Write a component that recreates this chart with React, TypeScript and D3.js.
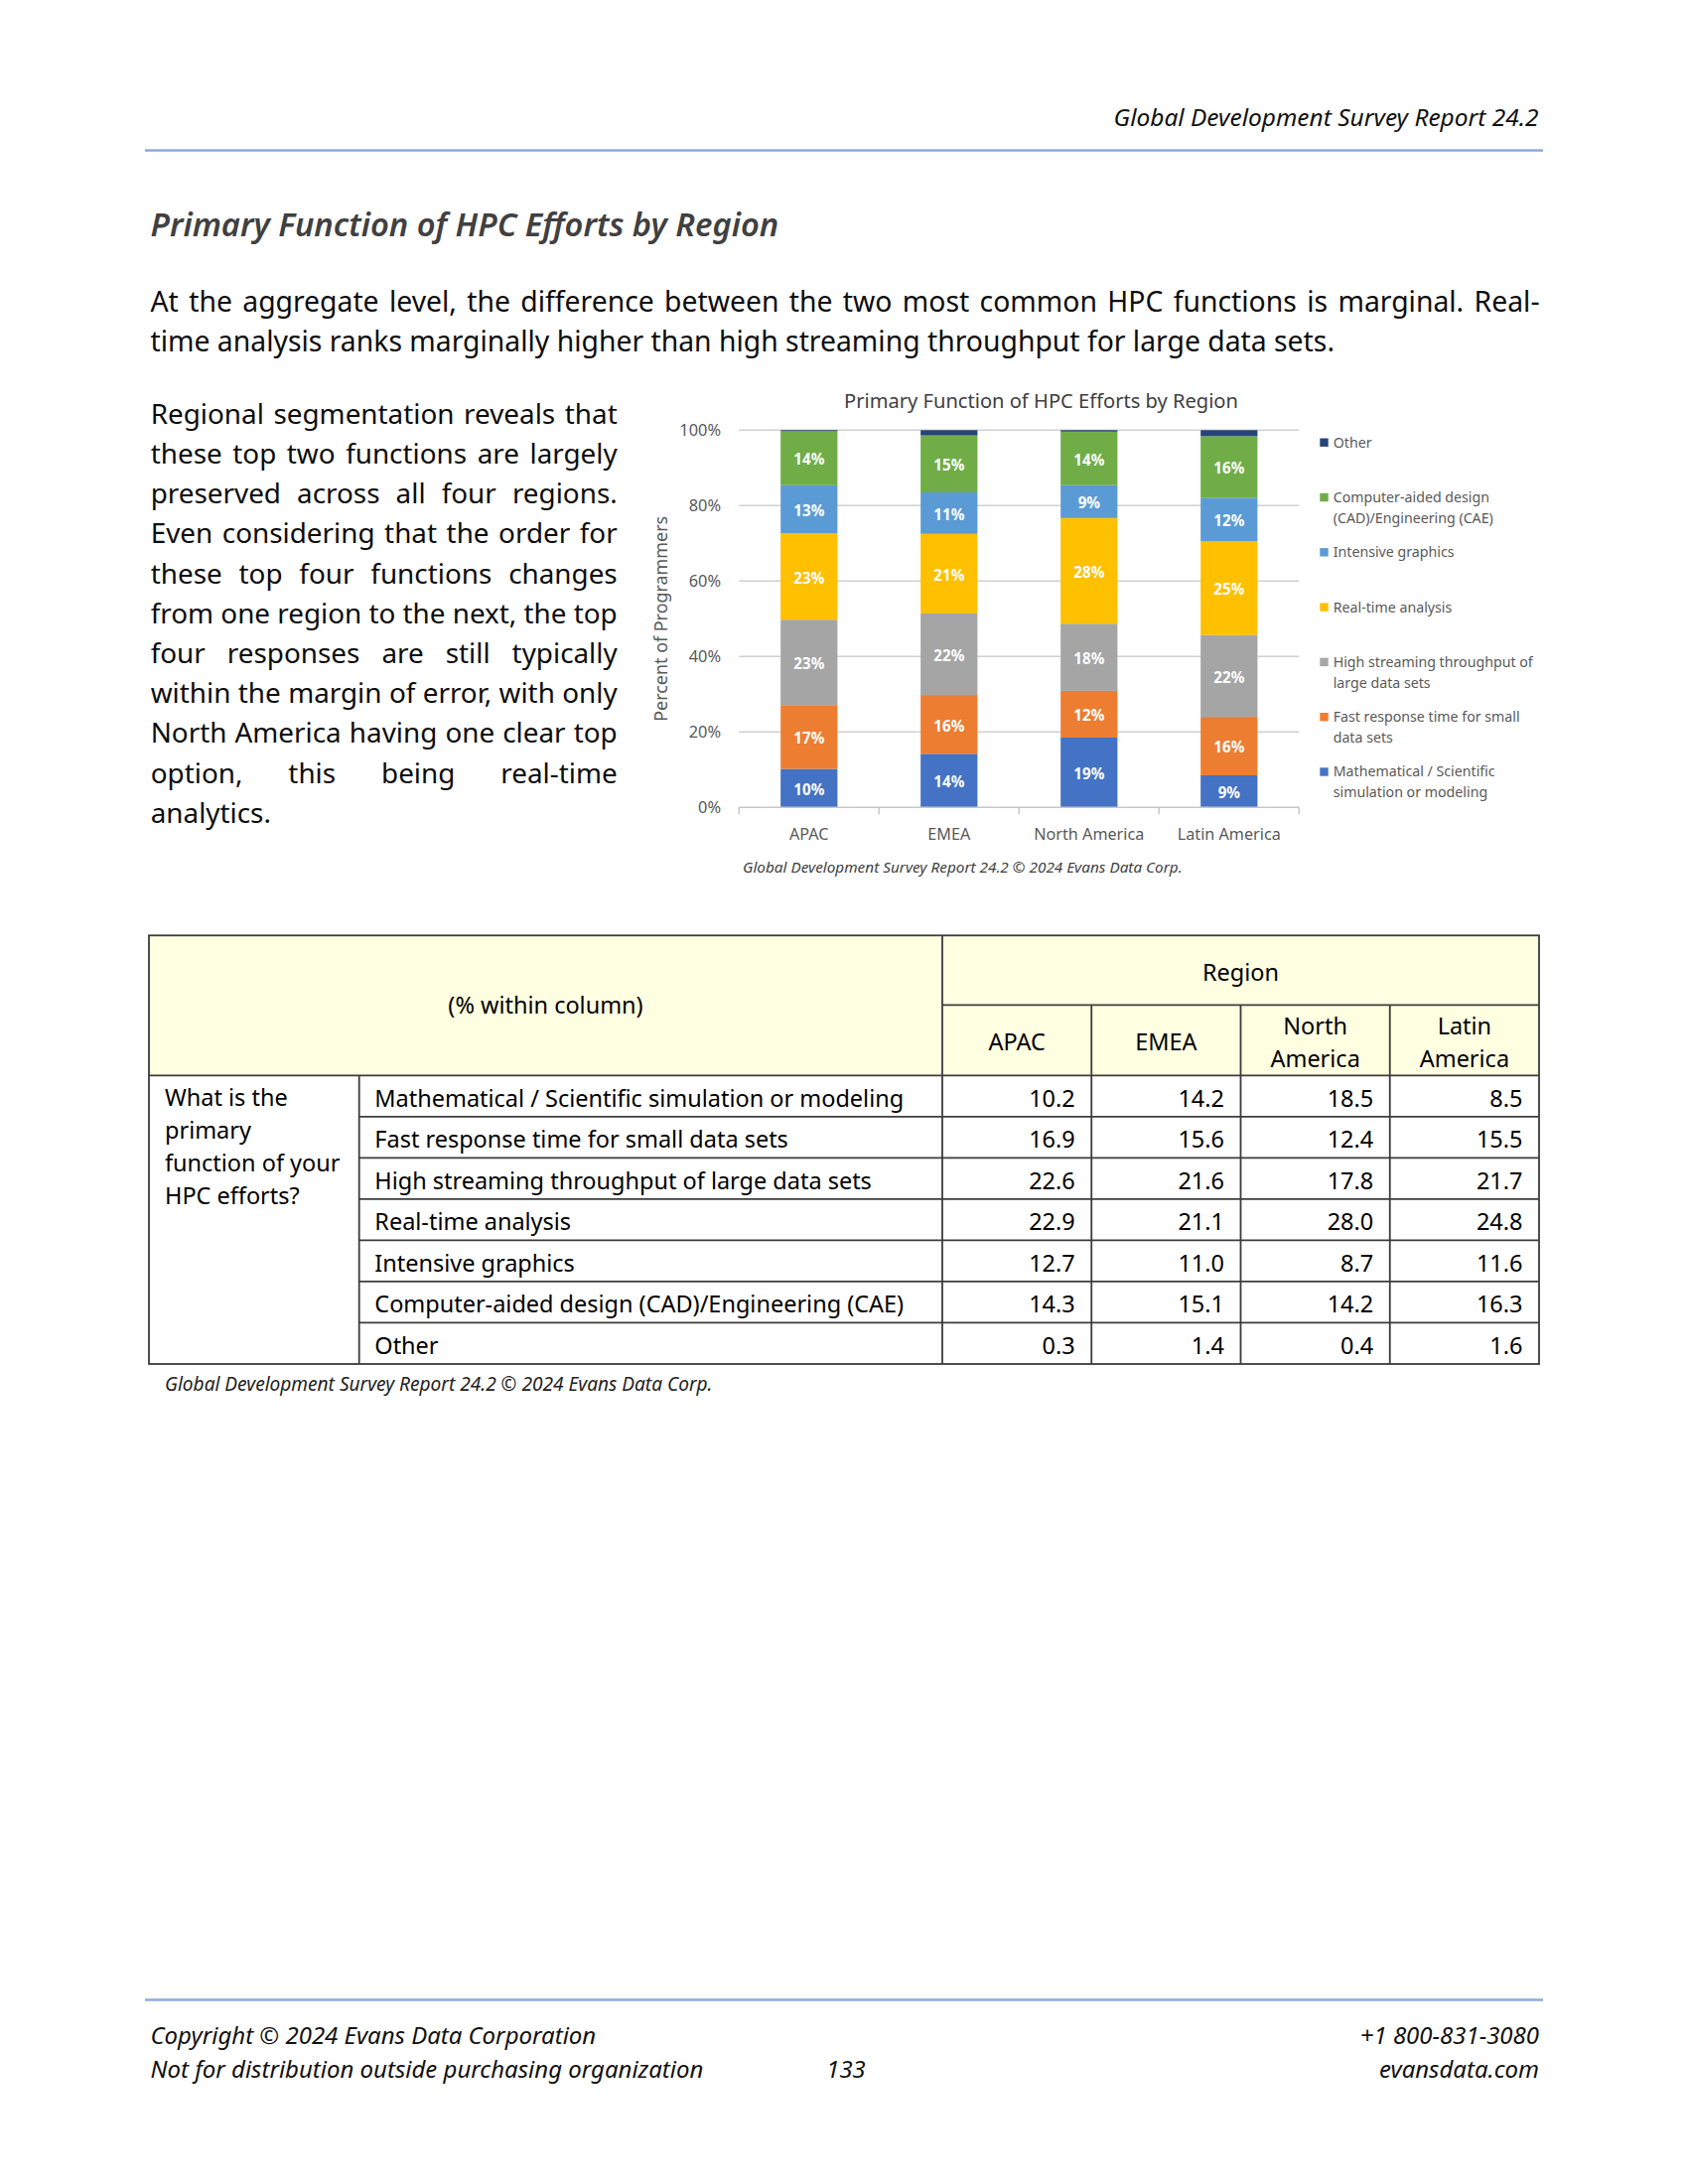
import React from "react";
import * as d3 from "d3";

// ---------------- DATA ----------------
const regions = ["APAC", "EMEA", "North America", "Latin America"];
const regionHeaderLines = [["APAC"], ["EMEA"], ["North", "America"], ["Latin", "America"]];
const functions = [
  "Mathematical / Scientific simulation or modeling",
  "Fast response time for small data sets",
  "High streaming throughput of large data sets",
  "Real-time analysis",
  "Intensive graphics",
  "Computer-aided design (CAD)/Engineering (CAE)",
  "Other",
];
const legendLines = [
  ["Mathematical / Scientific", "simulation or modeling"],
  ["Fast response time for small", "data sets"],
  ["High streaming throughput of", "large data sets"],
  ["Real-time analysis"],
  ["Intensive graphics"],
  ["Computer-aided design", "(CAD)/Engineering (CAE)"],
  ["Other"],
];
const seriesColors = ["#4472C4", "#ED7D31", "#A5A5A5", "#FFC000", "#5B9BD5", "#70AD47", "#264478"];
const apacValues = [10.2, 16.9, 22.6, 22.9, 12.7, 14.3, 0.3];
const emeaValues = [14.2, 15.6, 21.6, 21.1, 11.0, 15.1, 1.4];
const northAmericaValues = [18.5, 12.4, 17.8, 28.0, 8.7, 14.2, 0.4];
const latinAmericaValues = [8.5, 15.5, 21.7, 24.8, 11.6, 16.3, 1.6];
const regionValues = [apacValues, emeaValues, northAmericaValues, latinAmericaValues];
const yTickValues = [0, 0.2, 0.4, 0.6, 0.8, 1];

const headerText = "Global Development Survey Report 24.2";
const pageTitle = "Primary Function of HPC Efforts by Region";
const chartTitle = "Primary Function of HPC Efforts by Region";
const yAxisTitle = "Percent of Programmers";
const sourceText = "Global Development Survey Report 24.2 \u00A9 2024 Evans Data Corp.";
const para1 = [
  "At the aggregate level, the difference between the two most common HPC functions is marginal. Real-",
  "time analysis ranks marginally higher than high streaming throughput for large data sets.",
];
const para2 = [
  "Regional segmentation reveals that",
  "these top two functions are largely",
  "preserved across all four regions.",
  "Even considering that the order for",
  "these top four functions changes",
  "from one region to the next, the top",
  "four responses are still typically",
  "within the margin of error, with only",
  "North America having one clear top",
  "option, this being real-time",
  "analytics.",
];
const tableCorner = "(% within column)";
const tableRegionHeader = "Region";
const questionLines = ["What is the", "primary", "function of your", "HPC efforts?"];
const footerLeft = ["Copyright \u00A9 2024 Evans Data Corporation", "Not for distribution outside purchasing organization"];
const footerRight = ["+1 800-831-3080", "evansdata.com"];
const pageNumber = "133";

// ---------------- TEXT MEASURE ----------------
const FAM = '"Noto Sans", "Open Sans", sans-serif';
let _ctx: CanvasRenderingContext2D | null = null;
function measure(text: string, size: number, weight = "400", style = "normal") {
  if (!_ctx) _ctx = document.createElement("canvas").getContext("2d");
  _ctx!.font = `${style} ${weight} ${size}px ${FAM}`;
  return _ctx!.measureText(text).width;
}
function fit(text: string, width: number, weight = "400", style = "normal") {
  return (100 * width) / measure(text, 100, weight, style);
}

function Justified({ text, x, y, width, size, justify }: any) {
  if (!justify) {
    return (
      <text x={x} y={y} fontSize={size}>
        {text}
      </text>
    );
  }
  const words = text.split(" ");
  const ws = words.map((w: string) => measure(w, size));
  const gap = (width - d3.sum(ws)) / (words.length - 1);
  let cx = x;
  return (
    <g fontSize={size}>
      {words.map((w: string, i: number) => {
        const el = (
          <text key={i} x={cx} y={y}>
            {w}
          </text>
        );
        cx += ws[i] + gap;
        return el;
      })}
    </g>
  );
}

export default function App() {
  // font sizes fitted to reference widths
  const paraSize = fit("North America having one clear top", 466);
  const para1Size = fit(para1[1], 1193);
  const headerSize = fit(headerText, 428, "400", "italic");
  const titleSize = fit(pageTitle, 633, "600", "italic");
  const tableSize = fit(functions[0], 533);
  const footSize = fit(footerLeft[1], 557, "400", "italic");
  const chartTitleSize = fit(chartTitle, 397);
  const legendSize = fit("Intensive graphics", 122);
  const catSize = fit("Latin America", 104);
  const tickSize = fit("100%", 41.7);
  const yTitleSize = fit(yAxisTitle, 207);
  const barLabelSize = fit("14%", 31, "700");
  const srcSize = fit(sourceText, 443, "400", "italic");
  const tableSrcSize = fit(sourceText, 552, "400", "italic");

  // ---------- chart scales ----------
  const plotLeft = 744.3,
    plotRight = 1308.3,
    plotTop = 433.3,
    plotBottom = 813.3;
  const x = d3.scaleBand<string>().domain(regions).range([plotLeft, plotRight]).paddingInner(0.594).paddingOuter(0.297);
  const y = d3.scaleLinear().domain([0, 1]).range([plotBottom, plotTop]);
  const rows = regions.map((r, ri) => {
    const o: any = { region: r };
    functions.forEach((f, fi) => (o[f] = regionValues[ri][fi]));
    return o;
  });
  const stacked = d3.stack<any>().keys(functions).offset(d3.stackOffsetExpand)(rows);
  const pct = d3.format(".0%");
  const step = x.step();
  const boundaries = d3.range(regions.length + 1).map((i) => plotLeft + i * step);

  // legend
  const legendX = 1329.3;
  const legendTop = 445.7;
  const legendStep = 55.3;
  const legendOrder = d3.range(functions.length).reverse();

  // ---------- table geometry ----------
  const tL = 150,
    tC1 = 361.7,
    tC2 = 949,
    tR = 1550,
    tTop = 942.3,
    tMid = 1012.3,
    tHead = 1083.3,
    tBottom = 1374;
  const rowH = (tBottom - tHead) / functions.length;
  const colX = d3.scaleBand<string>().domain(regions).range([tC2, tR]);
  const fmt = d3.format(".1f");
  const lineC = "#3c3c3c";
  const lw = 1.8;

  return (
    <svg
      width={1700}
      height={2200}
      viewBox="0 0 1700 2200"
      style={{ position: "absolute", left: 0, top: 0, background: "#fff" }}
      fontFamily={FAM}
    >
      <rect x={0} y={0} width={1700} height={2200} fill="#fff" />
      {/* header */}
      <text x={1549.5} y={126.7} textAnchor="end" fontStyle="italic" fontSize={headerSize} fill="#111">
        {headerText}
      </text>
      <line x1={146} x2={1554} y1={151.5} y2={151.5} stroke="#8EAADB" strokeWidth={2.7} />

      {/* title */}
      <text x={151.5} y={238} fontStyle="italic" fontWeight={600} fontSize={titleSize} fill="#404040">
        {pageTitle}
      </text>

      {/* paragraph 1 */}
      <g fill="#0d0d0d">
        {para1.map((l, i) => (
          <Justified key={i} text={l} x={151.5} y={313.5 + i * 40.2} width={1399} size={para1Size} justify={i < para1.length - 1} />
        ))}
      </g>
      {/* paragraph 2 */}
      <g fill="#0d0d0d">
        {para2.map((l, i) => (
          <Justified key={i} text={l} x={151.7} y={426.7 + i * 40.2} width={470} size={paraSize} justify={i < para2.length - 1} />
        ))}
      </g>

      {/* ---------------- CHART ---------------- */}
      <text x={1048.5} y={410.7} textAnchor="middle" fontSize={chartTitleSize} fill="#404040">
        {chartTitle}
      </text>
      {/* gridlines */}
      {yTickValues.map((t) => (
        <g key={t}>
          {t > 0 && <line x1={plotLeft} x2={plotRight} y1={y(t)} y2={y(t)} stroke="#D0D0D0" strokeWidth={1.4} />}
          <text x={726} y={y(t)} dy="0.35em" textAnchor="end" fontSize={tickSize} fill="#595959">
            {pct(t)}
          </text>
        </g>
      ))}
      {/* bars */}
      {stacked.map((s, si) => (
        <g key={s.key} fill={seriesColors[si]}>
          {s.map((d, di) => (
            <rect key={di} x={x(regions[di])} width={x.bandwidth()} y={y(d[1])} height={Math.max(0, y(d[0]) - y(d[1]))} />
          ))}
        </g>
      ))}
      {/* bar labels */}
      {stacked.map((s, si) =>
        si === functions.length - 1
          ? null
          : s.map((d, di) => (
              <text
                key={`${si}-${di}`}
                x={(x(regions[di]) as number) + x.bandwidth() / 2}
                y={(y(d[0]) + y(d[1])) / 2}
                dy="0.45em"
                textAnchor="middle"
                fontSize={barLabelSize}
                fontWeight={700}
                fill="#fff"
              >
                {Math.round(regionValues[di][si] + 1e-9)}%
              </text>
            ))
      )}
      {/* x axis */}
      <line x1={plotLeft} x2={plotRight} y1={plotBottom} y2={plotBottom} stroke="#C8C8C8" strokeWidth={1.6} />
      {boundaries.map((b, i) => (
        <line key={i} x1={b} x2={b} y1={plotBottom} y2={plotBottom + 7} stroke="#C8C8C8" strokeWidth={1.6} />
      ))}
      {regions.map((r) => (
        <text key={r} x={(x(r) as number) + x.bandwidth() / 2} y={846} textAnchor="middle" fontSize={catSize} fill="#595959">
          {r}
        </text>
      ))}
      <text
        transform="translate(666,623.3) rotate(-90)"
        textAnchor="middle"
        dy="0.35em"
        fontSize={yTitleSize}
        fill="#595959"
      >
        {yAxisTitle}
      </text>
      {/* legend */}
      {legendOrder.map((fi, i) => {
        const cy = legendTop + i * legendStep;
        return (
          <g key={fi}>
            <rect x={legendX} y={cy - 4.2} width={8.4} height={8.4} fill={seriesColors[fi]} />
            {legendLines[fi].map((ln, li) => (
              <text key={li} x={1342.7} y={cy + li * 21} dy="0.35em" fontSize={legendSize} fill="#595959">
                {ln}
              </text>
            ))}
          </g>
        );
      })}
      <text x={748} y={879} fontStyle="italic" fontSize={srcSize} fill="#404040">
        {sourceText}
      </text>

      {/* ---------------- TABLE ---------------- */}
      <rect x={tL} y={tTop} width={tR - tL} height={tHead - tTop} fill="#FFFFE1" />
      <g stroke={lineC} strokeWidth={lw} fill="none">
        <rect x={tL} y={tTop} width={tR - tL} height={tBottom - tTop} />
        <line x1={tC2} x2={tR} y1={tMid} y2={tMid} />
        <line x1={tL} x2={tR} y1={tHead} y2={tHead} />
        {d3.range(1, functions.length).map((k) => (
          <line key={k} x1={tC1} x2={tR} y1={tHead + k * rowH} y2={tHead + k * rowH} />
        ))}
        <line x1={tC2} x2={tC2} y1={tTop} y2={tBottom} />
        {regions.slice(1).map((r) => (
          <line key={r} x1={colX(r)} x2={colX(r)} y1={tMid} y2={tBottom} />
        ))}
        <line x1={tC1} x2={tC1} y1={tHead} y2={tBottom} />
      </g>
      <g fontSize={tableSize} fill="#000">
        <text x={(tL + tC2) / 2} y={tTop + (tHead - tTop) / 2} dy="0.35em" textAnchor="middle">
          {tableCorner}
        </text>
        <text x={(tC2 + tR) / 2} y={980} dy="0.35em" textAnchor="middle">
          {tableRegionHeader}
        </text>
        {regions.map((r, ri) => {
          const lines = regionHeaderLines[ri];
          const cx = (colX(r) as number) + colX.bandwidth() / 2;
          const c0 = 1050 - ((lines.length - 1) * 32.7) / 2;
          return lines.map((ln, li) => (
            <text key={r + li} x={cx} y={c0 + li * 32.7} dy="0.35em" textAnchor="middle">
              {ln}
            </text>
          ));
        })}
        {questionLines.map((q, qi) => (
          <text key={qi} x={166} y={1113.5 + qi * 33.1}>
            {q}
          </text>
        ))}
        {functions.map((f, fi) => (
          <text key={f} x={377.3} y={tHead + (fi + 0.5) * rowH + 2.5} dy="0.35em">
            {f}
          </text>
        ))}
        {regions.map((r, ri) =>
          regionValues[ri].map((v, fi) => (
            <text
              key={r + fi}
              x={(colX(r) as number) + colX.bandwidth() - 16.5}
              y={tHead + (fi + 0.5) * rowH + 2.5}
              dy="0.35em"
              textAnchor="end"
            >
              {fmt(v)}
            </text>
          ))
        )}
      </g>
      <text x={166} y={1401} fontStyle="italic" fontSize={tableSrcSize} fill="#222">
        {sourceText}
      </text>

      {/* ---------------- FOOTER ---------------- */}
      <line x1={146} x2={1554} y1={2014.5} y2={2014.5} stroke="#8EAADB" strokeWidth={2.7} />
      <g fontStyle="italic" fontSize={footSize} fill="#111">
        {footerLeft.map((t, i) => (
          <text key={i} x={151.5} y={2059 + i * 33.7}>
            {t}
          </text>
        ))}
        {footerRight.map((t, i) => (
          <text key={i} x={1550} y={2059 + i * 33.7} textAnchor="end">
            {t}
          </text>
        ))}
        <text x={852} y={2092.7} textAnchor="middle">
          {pageNumber}
        </text>
      </g>
    </svg>
  );
}
